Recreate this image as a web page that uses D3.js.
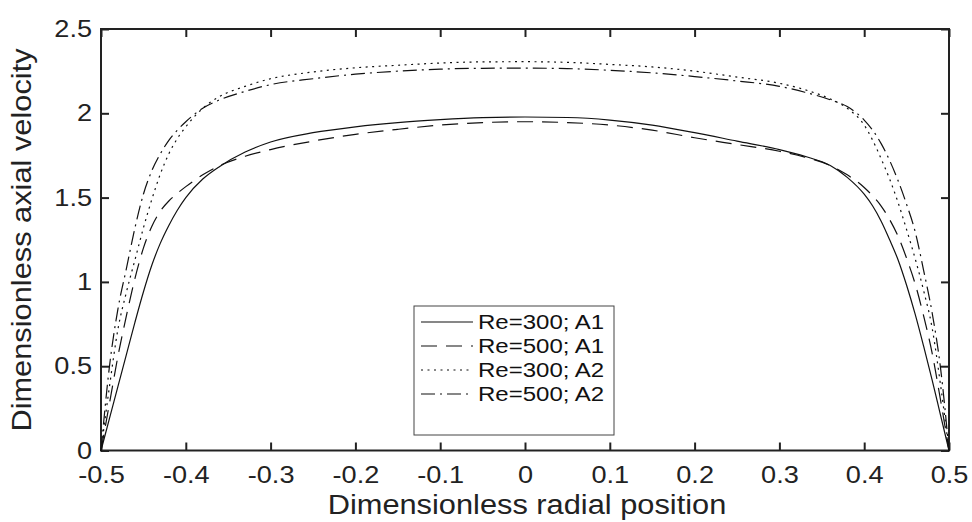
<!DOCTYPE html>
<html>
<head>
<meta charset="utf-8">
<script src="https://cdn.jsdelivr.net/npm/d3@7"></script>
<style>
  body { margin: 0; background: #fff; }
  svg { display: block; font-family: "Liberation Sans", Arial, sans-serif; }
  .tick text { fill: #222; }
</style>
</head>
<body>
<svg width="972" height="522"></svg>
<script>
const svg = d3.select('svg');

// radial positions shared by every series
const xs = [-0.5, -0.49, -0.48, -0.47, -0.46, -0.45, -0.44, -0.43, -0.42, -0.41, -0.40,
  -0.38, -0.36, -0.33, -0.30, -0.25, -0.20, -0.15, -0.10, -0.05, 0,
  0.05, 0.10, 0.15, 0.20, 0.25, 0.30, 0.33, 0.36, 0.38, 0.40,
  0.41, 0.42, 0.43, 0.44, 0.45, 0.46, 0.47, 0.48, 0.49, 0.5];

const re300A1 = [0, 0.19, 0.38, 0.57, 0.76, 0.94, 1.10, 1.23, 1.335, 1.425, 1.50,
  1.61, 1.685, 1.77, 1.83, 1.885, 1.92, 1.945, 1.962, 1.974, 1.978,
  1.975, 1.96, 1.93, 1.885, 1.835, 1.785, 1.745, 1.69, 1.62, 1.52,
  1.45, 1.36, 1.25, 1.13, 0.98, 0.81, 0.62, 0.42, 0.21, 0];

const re500A1 = [0, 0.28, 0.56, 0.80, 1.02, 1.20, 1.33, 1.42, 1.48, 1.525, 1.565,
  1.635, 1.69, 1.745, 1.785, 1.835, 1.875, 1.905, 1.93, 1.945, 1.95,
  1.945, 1.93, 1.90, 1.855, 1.815, 1.775, 1.74, 1.69, 1.635, 1.56,
  1.51, 1.45, 1.37, 1.27, 1.14, 0.99, 0.80, 0.58, 0.30, 0];

const re300A2 = [0, 0.38, 0.72, 0.94, 1.13, 1.32, 1.49, 1.64, 1.76, 1.85, 1.92,
  2.03, 2.10, 2.16, 2.205, 2.245, 2.27, 2.285, 2.298, 2.305, 2.306,
  2.302, 2.29, 2.275, 2.25, 2.215, 2.178, 2.14, 2.085, 2.03, 1.93,
  1.84, 1.73, 1.61, 1.47, 1.31, 1.14, 0.95, 0.73, 0.39, 0];

const re500A2 = [0, 0.50, 0.84, 1.08, 1.32, 1.52, 1.66, 1.76, 1.84, 1.90, 1.95,
  2.03, 2.08, 2.13, 2.17, 2.205, 2.232, 2.25, 2.262, 2.267, 2.268,
  2.265, 2.255, 2.24, 2.218, 2.192, 2.16, 2.125, 2.08, 2.04, 1.96,
  1.90, 1.82, 1.72, 1.60, 1.46, 1.30, 1.07, 0.82, 0.49, 0];

const seriesNames = ['Re=300; A1', 'Re=500; A1', 'Re=300; A2', 'Re=500; A2'];
const seriesValues = [re300A1, re500A1, re300A2, re500A2];
const seriesDash = ['none', '16,9', '2,4.5', '14,5,2,5'];

const xTicks = [-0.5, -0.4, -0.3, -0.2, -0.1, 0, 0.1, 0.2, 0.3, 0.4, 0.5];
const xTickLabels = ['-0.5', '-0.4', '-0.3', '-0.2', '-0.1', '0', '0.1', '0.2', '0.3', '0.4', '0.5'];
const yTicks = [0, 0.5, 1, 1.5, 2, 2.5];
const yTickLabels = ['0', '0.5', '1', '1.5', '2', '2.5'];

const margin = { left: 101, top: 29, right: 23, bottom: 71.5 };
const innerWidth = 972 - margin.left - margin.right;
const innerHeight = 522 - margin.top - margin.bottom;

const xScale = d3.scaleLinear().domain([-0.5, 0.5]).range([0, innerWidth]);
const yScale = d3.scaleLinear().domain([0, 2.5]).range([innerHeight, 0]);

// the source font is a little wider than Liberation Sans
const widen = k => function () {
  const len = this.getComputedTextLength();
  d3.select(this).attr('textLength', len * k).attr('lengthAdjust', 'spacingAndGlyphs');
};

const g = svg.append('g')
  .attr('transform', `translate(${margin.left}, ${margin.top})`);

// bottom axis with labels, ticks point inward
const xAxisG = g.append('g')
  .attr('transform', `translate(0, ${innerHeight})`)
  .call(d3.axisBottom(xScale).tickValues(xTicks)
    .tickFormat((d, i) => xTickLabels[i])
    .tickSizeInner(-8).tickSizeOuter(0).tickPadding(15));
xAxisG.selectAll('text').attr('font-size', 24).each(widen(1.13));

// top axis, ticks only
g.append('g')
  .call(d3.axisTop(xScale).tickValues(xTicks).tickFormat('')
    .tickSizeInner(-8).tickSizeOuter(0));

// left axis with labels
const yAxisG = g.append('g')
  .call(d3.axisLeft(yScale).tickValues(yTicks)
    .tickFormat((d, i) => yTickLabels[i])
    .tickSizeInner(-8).tickSizeOuter(0).tickPadding(9));
yAxisG.selectAll('text').attr('font-size', 24).each(widen(1.13));

// right axis, ticks only
g.append('g')
  .attr('transform', `translate(${innerWidth}, 0)`)
  .call(d3.axisRight(yScale).tickValues(yTicks).tickFormat('')
    .tickSizeInner(-8).tickSizeOuter(0));

g.selectAll('.domain').remove();
g.selectAll('.tick line').attr('stroke', '#222').attr('stroke-width', 2);

g.append('rect')
  .attr('width', innerWidth)
  .attr('height', innerHeight)
  .attr('fill', 'none')
  .attr('stroke', '#222')
  .attr('stroke-width', 2);

// curves
const line = d3.line()
  .x((d, i) => xScale(xs[i]))
  .y(d => yScale(d))
  .curve(d3.curveMonotoneX);

g.selectAll('path.curve').data(seriesValues)
  .enter().append('path')
    .attr('class', 'curve')
    .attr('d', line)
    .attr('fill', 'none')
    .attr('stroke', '#111')
    .attr('stroke-width', 1.2)
    .attr('stroke-dasharray', (d, i) => seriesDash[i]);

// axis titles
svg.append('text')
  .attr('x', 527)
  .attr('y', 514)
  .attr('text-anchor', 'middle')
  .attr('font-size', 27)
  .attr('fill', '#222')
  .text('Dimensionless radial position')
  .each(widen(1.14));

svg.append('text')
  .attr('transform', 'translate(31, 240) rotate(-90)')
  .attr('text-anchor', 'middle')
  .attr('font-size', 27)
  .attr('fill', '#222')
  .text('Dimensionless axial velocity')
  .each(widen(1.14));

// legend
const legend = svg.append('g').attr('transform', 'translate(414, 306)');
legend.append('rect')
  .attr('width', 200)
  .attr('height', 129)
  .attr('fill', '#fff')
  .attr('stroke', '#444')
  .attr('stroke-width', 1);

const rowY = d3.scalePoint().domain(seriesNames).range([16, 88]);
const rows = legend.selectAll('g.row').data(seriesNames)
  .enter().append('g')
    .attr('class', 'row')
    .attr('transform', d => `translate(0, ${rowY(d)})`);
rows.append('line')
  .attr('x1', 7).attr('x2', 59)
  .attr('stroke', '#111')
  .attr('stroke-width', 1.2)
  .attr('stroke-dasharray', (d, i) => seriesDash[i]);
rows.append('text')
  .attr('x', 64)
  .attr('dy', '0.36em')
  .attr('font-size', 20)
  .attr('fill', '#111')
  .text(d => d)
  .each(widen(1.2));
</script>
</body>
</html>
